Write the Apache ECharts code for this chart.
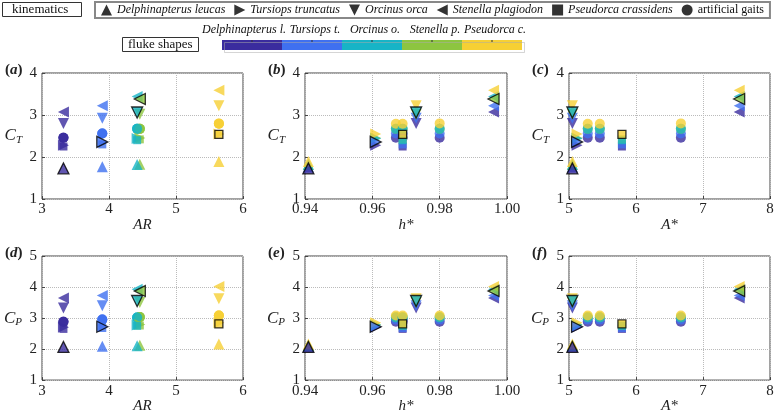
<!DOCTYPE html>
<html><head><meta charset="utf-8">
<script src="https://cdn.jsdelivr.net/npm/echarts@6/dist/echarts.min.js"></script>
<style>html,body{margin:0;padding:0;background:#fff}#c{width:781px;height:415px}</style>
</head><body><div id="c"></div>
<script>
// fluke shapes (colour) order: D, T, O, S, P
const flukes = ['Delphinapterus l.', 'Tursiops t.', 'Orcinus o.', 'Stenella p.', 'Pseudorca c.'];
const flukeColors = ['#3a2c9e', '#3f70f0', '#17b4c6', '#8dc540', '#f6d034'];
const flukeAR = [3.32, 3.90, 4.42, 4.46, 5.64];

// kinematics
const kinNames = ['Delphinapterus leucas', 'Tursiops truncatus', 'Orcinus orca', 'Stenella plagiodon', 'Pseudorca crassidens'];
const kinH = [0.941, 0.961, 0.973, 0.996, 0.969];
const kinA = [5.05, 5.12, 5.05, 7.54, 5.79];
const gaitName = 'artificial gaits';
const gaitH = [0.967, 0.969, 0.980];
const gaitA = [5.28, 5.46, 6.67];

// C_T : rows = kinematics, columns = fluke shapes (D, T, O, S, P)
const ctDl = [1.73, 1.77, 1.82, 1.83, 1.89];
const ctTt = [2.28, 2.36, 2.44, 2.45, 2.55];
const ctOo = [2.80, 2.92, 3.06, 3.02, 3.22];
const ctSp = [3.07, 3.22, 3.44, 3.38, 3.59];
const ctPc = [2.25, 2.30, 2.40, 2.42, 2.54];
const ctGait1 = [2.46, 2.56, 2.67, 2.67, 2.79];
const ctGait2 = [2.46, 2.56, 2.67, 2.67, 2.79];
const ctGait3 = [2.46, 2.56, 2.67, 2.67, 2.80];

// C_P
const cpDl = [2.07, 2.09, 2.11, 2.12, 2.16];
const cpTt = [2.70, 2.72, 2.78, 2.79, 2.85];
const cpOo = [3.32, 3.40, 3.55, 3.50, 3.62];
const cpSp = [3.65, 3.73, 3.93, 3.87, 4.02];
const cpPc = [2.65, 2.68, 2.75, 2.76, 2.81];
const cpGait1 = [2.88, 2.95, 3.02, 3.03, 3.08];
const cpGait2 = [2.88, 2.95, 3.02, 3.03, 3.08];
const cpGait3 = [2.88, 2.95, 3.02, 3.03, 3.08];

const xTicksAR = [3, 6, 1], xTicksH = [0.94, 1.00, 0.02], xTicksA = [5, 8, 1];
const yTicksCT = [1, 4, 1], yTicksCP = [1, 5, 1];

const CT = [ctDl, ctTt, ctOo, ctSp, ctPc], CTg = [ctGait1, ctGait2, ctGait3];
const CP = [cpDl, cpTt, cpOo, cpSp, cpPc], CPg = [cpGait1, cpGait2, cpGait3];

const symbols = [
  'path://M0,10L5,0L10,10Z',   // up
  'path://M0,0L10,5L0,10Z',    // right
  'path://M0,0L10,0L5,10Z',    // down
  'path://M10,0L0,5L10,10Z',   // left
  'rect'
];
const symSizes = [11, 11, 11, 11, 8];
const drawOrder = [0, 1, 3, 2, 4];

const serif = 'Liberation Serif';
const lefts = [42, 305, 569], widths = [201, 202, 201];
const tops = [73, 256], heights = [126, 128];
const xNames = ['AR', 'h*', 'A*'];
const yNames = ['T', 'P'];
const xTicks = [xTicksAR, xTicksH, xTicksA];
const yTicks = [yTicksCT, yTicksCP];

const grid = [], xAxis = [], yAxis = [], series = [];
for (let p = 0; p < 6; p++) {
  const r = Math.floor(p / 3), c = p % 3;
  grid.push({left: lefts[c], top: tops[r], width: widths[c], height: heights[r], show: true,
    borderColor: '#444', borderWidth: 1, backgroundColor: '#fff', containLabel: false});
  const xt = xTicks[c], yt = yTicks[r];
  xAxis.push({type: 'value', gridIndex: p, min: xt[0], max: xt[1], interval: xt[2],
    name: xNames[c], nameLocation: 'middle', nameGap: 17,
    nameTextStyle: {fontFamily: serif, fontStyle: 'italic', fontSize: 15, color: '#222'},
    axisLine: {show: false}, axisTick: {show: true, inside: true, length: 3, lineStyle: {color: '#444'}},
    axisLabel: {fontFamily: serif, fontSize: 15, color: '#222', margin: 3,
      formatter: c === 1 ? (v => v.toFixed(2)) : (v => String(Math.round(v)))},
    splitLine: {show: true, lineStyle: {type: 'dotted', color: '#bbb'}}});
  yAxis.push({type: 'value', gridIndex: p, min: yt[0], max: yt[1], interval: yt[2],
    name: '{c|C}{s|' + yNames[r] + '}', nameLocation: 'middle', nameRotate: 0, nameGap: 20,
    nameTextStyle: {rich: {
      c: {fontFamily: serif, fontStyle: 'italic', fontSize: 17, color: '#222', lineHeight: 20},
      s: {fontFamily: serif, fontStyle: 'italic', fontSize: 11, color: '#222', padding: [9, 0, 0, 0]}}},
    axisLine: {show: false}, axisTick: {show: true, inside: true, length: 3, lineStyle: {color: '#444'}},
    axisLabel: {fontFamily: serif, fontSize: 15, color: '#222', margin: 5},
    splitLine: {show: true, lineStyle: {type: 'dotted', color: '#bbb'}}});

  const vals = r === 0 ? CT : CP, gvals = r === 0 ? CTg : CPg;
  // artificial gaits
  const gd = [];
  for (let g = 0; g < 3; g++) {
    drawOrder.forEach(f => {
      const x = c === 0 ? flukeAR[f] : (c === 1 ? gaitH[g] : gaitA[g]);
      gd.push({value: [x, gvals[g][f]], itemStyle: {color: flukeColors[f]}});
    });
  }
  series.push({type: 'scatter', name: gaitName, xAxisIndex: p, yAxisIndex: p, symbol: 'circle',
    symbolSize: 10, data: gd, z: 2, emphasis: {disabled: true}});
  // species kinematics (non-native fluke shapes)
  for (let k = 0; k < 5; k++) {
    const d = [];
    drawOrder.forEach(f => {
      if (f === k) return;
      const x = c === 0 ? flukeAR[f] : (c === 1 ? kinH[k] : kinA[k]);
      d.push({value: [x, vals[k][f]], itemStyle: {color: flukeColors[f]}});
    });
    series.push({type: 'scatter', name: kinNames[k], xAxisIndex: p, yAxisIndex: p, symbol: symbols[k],
      symbolSize: symSizes[k], data: d, z: 2, emphasis: {disabled: true}});
  }
  // native combinations (own fluke with own kinematics), black edge
  const nd = [];
  for (let k = 0; k < 5; k++) {
    const x = c === 0 ? flukeAR[k] : (c === 1 ? kinH[k] : kinA[k]);
    nd.push({value: [x, vals[k][k]], symbol: symbols[k], symbolSize: symSizes[k],
      itemStyle: {color: flukeColors[k], borderColor: '#000', borderWidth: 1.3}});
  }
  series.push({type: 'scatter', name: 'native', xAxisIndex: p, yAxisIndex: p, data: nd, z: 3,
    emphasis: {disabled: true}});
}

const legendData = kinNames.map((n, k) => ({name: n, icon: symbols[k], itemStyle: {color: '#000', borderWidth: 0}}));
legendData.push({name: gaitName, icon: 'circle', itemStyle: {color: '#000', borderWidth: 0},
  textStyle: {fontStyle: 'normal'}});

const panelLetters = ['a', 'b', 'c', 'd', 'e', 'f'];
const titles = [
  {text: 'kinematics', left: 2, top: 2, borderColor: '#333', borderWidth: 1, padding: [1, 13, 1, 10],
    textStyle: {fontFamily: serif, fontWeight: 'normal', fontSize: 13, color: '#111'}},
  {text: 'fluke shapes', left: 122, top: 37, borderColor: '#333', borderWidth: 1, padding: [1, 6, 1, 6],
    textStyle: {fontFamily: serif, fontWeight: 'normal', fontSize: 13, color: '#111'}}
];
panelLetters.forEach((L, p) => {
  const r = Math.floor(p / 3), c = p % 3;
  titles.push({text: '{n|(}{i|' + L + '}{n|)}', left: lefts[c] - 37, top: tops[r] - 10, padding: 0,
    textStyle: {rich: {n: {fontFamily: serif, fontSize: 15, color: '#222'},
      i: {fontFamily: serif, fontStyle: 'italic', fontSize: 15, color: '#222'}}}});
});

// colour bar for fluke shapes
const graphic = [];
const cbLeft = 222, cbTop = 40, cbSeg = 60, cbH = 10;
flukes.forEach((n, f) => {
  graphic.push({type: 'rect', left: cbLeft + f * cbSeg, top: cbTop, shape: {width: cbSeg, height: cbH},
    style: {fill: flukeColors[f]}, silent: true});
  graphic.push({type: 'line', shape: {x1: cbLeft + f * cbSeg + cbSeg / 2, y1: cbTop, x2: cbLeft + f * cbSeg + cbSeg / 2, y2: cbTop + 2},
    style: {stroke: '#333', lineWidth: 1}, silent: true});
  graphic.push({type: 'text', x: cbLeft + f * cbSeg + cbSeg / 2 + (f === 0 ? -8 : 3), y: cbTop - 4,
    style: {text: n, fontFamily: serif, fontStyle: 'italic', fontSize: 12, fill: '#111', align: 'center', verticalAlign: 'bottom'}, silent: true});
});
graphic.push({type: 'rect', left: cbLeft, top: cbTop, shape: {width: cbSeg * 5, height: cbH},
  style: {fill: 'none', stroke: '#aaa', lineWidth: 0.5}, silent: true});

const chart = echarts.init(document.getElementById('c'), null, {renderer: 'canvas'});
chart.setOption({
  animation: false,
  title: titles,
  legend: {data: legendData, left: 95, top: 2, width: 720, itemWidth: 11, itemHeight: 11, itemGap: 9,
    selectedMode: false, padding: [2, 6, 2, 6], borderColor: '#888', borderWidth: 2,
    textStyle: {fontFamily: serif, fontStyle: 'italic', fontSize: 12, color: '#111'}},
  grid, xAxis, yAxis, series, graphic
});
</script></body></html>
